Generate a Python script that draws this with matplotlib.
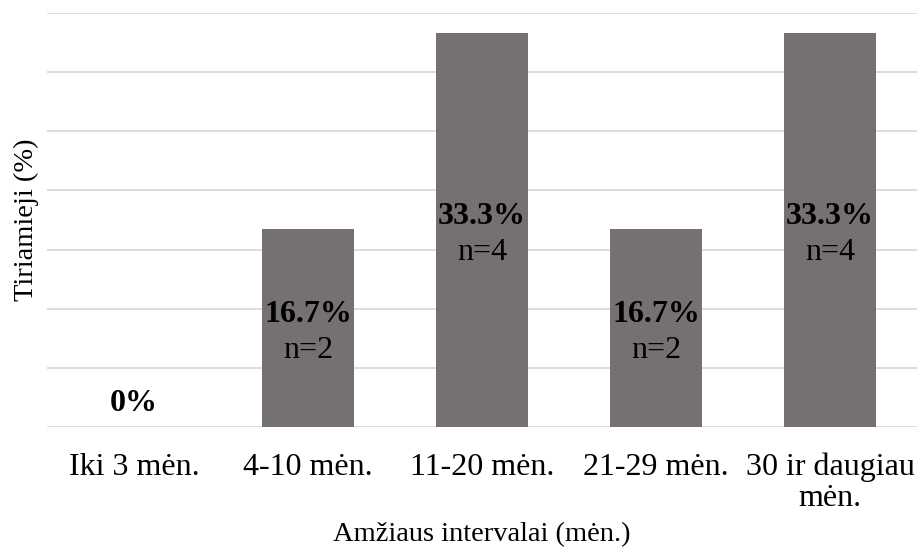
import matplotlib
matplotlib.use("Agg")
import matplotlib.pyplot as plt

# Data
categories = ["Iki 3 mėn.", "4-10 mėn.", "11-20 mėn.", "21-29 mėn.", "30 ir daugiau\nmėn."]
percents = [0, 16.7, 33.3, 16.7, 33.3]
counts = [0, 2, 4, 2, 4]

plt.rcParams['font.family'] = ['Liberation Serif', 'DejaVu Serif']

fig = plt.figure(figsize=(9.2, 5.47), dpi=100)
ax = fig.add_axes([47 / 920, 1 - 427 / 547, 870 / 920, 414 / 547])

x = range(len(categories))
bars = ax.bar(x, percents, width=0.53, color="#767171", zorder=3)

ax.set_ylim(0, 35)
ax.set_xlim(-0.5, len(categories) - 0.5)
ax.set_yticks(range(0, 36, 5))
ax.yaxis.grid(True, color="#d9d9d9", linewidth=1.3, zorder=0)
ax.tick_params(axis='y', left=False, labelleft=False)
ax.tick_params(axis='x', bottom=False, labelsize=23, pad=15)
ax.set_xticks(list(x))
ax.set_xticklabels(categories, linespacing=1.1)
for lbl in ax.get_xticklabels():
    lbl.set_horizontalalignment('center')
    lbl.set_multialignment('center')
for s in ax.spines.values():
    s.set_visible(False)

# Labels inside bars
for bar, p, n in zip(bars, percents, counts):
    cx = bar.get_x() + bar.get_width() / 2
    if p == 0:
        ax.annotate("0%", (cx, 0), xytext=(0, 17), textcoords="offset points",
                    ha="center", va="center", fontsize=23, fontweight="bold")
        continue
    mid = p / 2
    ax.annotate(f"{p:.1f}%", (cx, mid), xytext=(0, 10), textcoords="offset points",
                ha="center", va="center", fontsize=23, fontweight="bold", zorder=4)
    ax.annotate(f"n={n}", (cx, mid), xytext=(0, -16), textcoords="offset points",
                ha="center", va="center", fontsize=23, zorder=4)

ax.set_ylabel("Tiriamieji (%)", fontsize=20.5, labelpad=6)
ax.set_xlabel("Amžiaus intervalai (mėn.)", fontsize=20.5, labelpad=6)

fig.savefig("out.png", dpi=100)
